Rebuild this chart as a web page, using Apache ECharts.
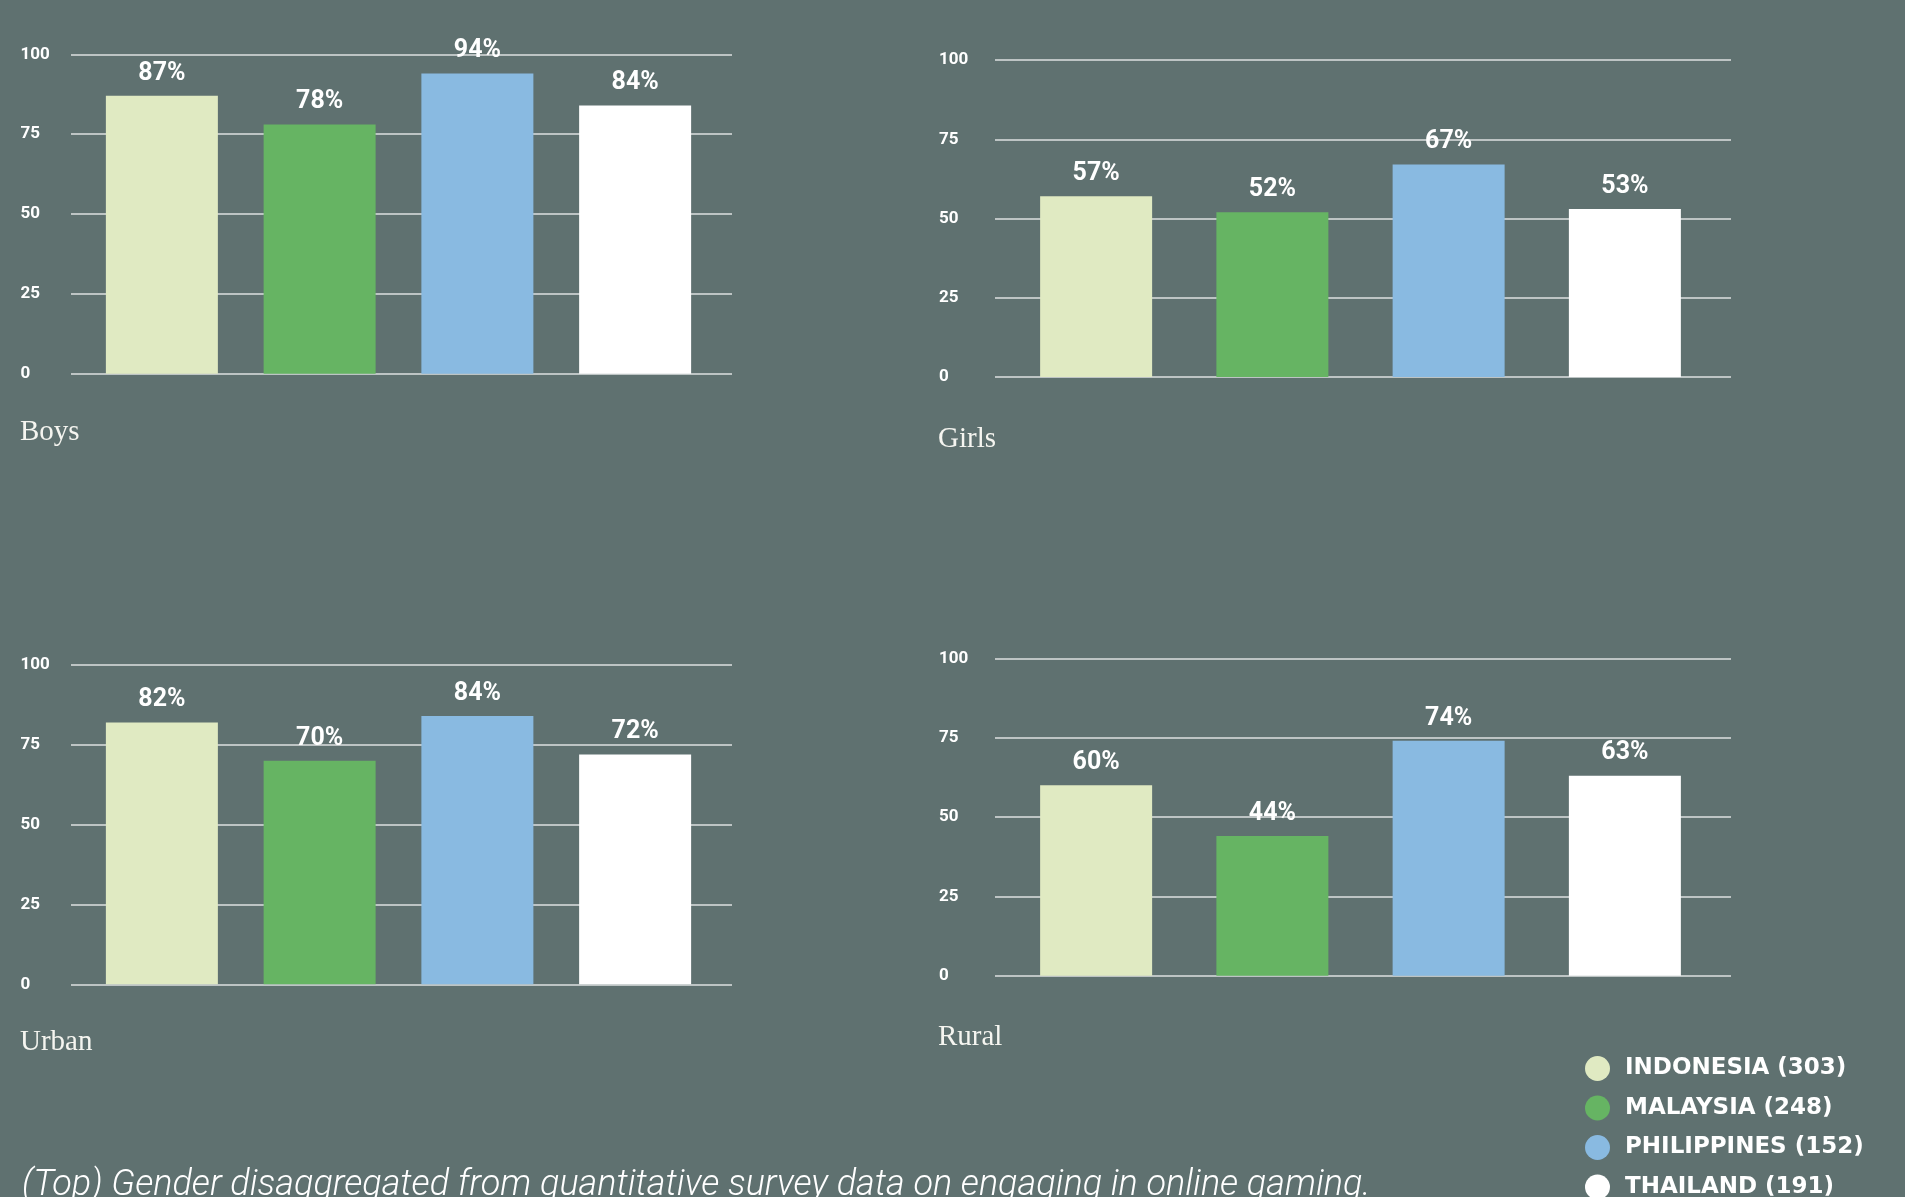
<!DOCTYPE html>
<html>
<head>
<meta charset="utf-8">
<title>Online gaming by gender and location</title>
<script src="https://cdn.jsdelivr.net/npm/echarts@6/dist/echarts.min.js"></script>
<style>
  html, body { margin: 0; padding: 0; background: #5f7170; }
  #chart { width: 1905px; height: 1197px; }
</style>
</head>
<body>
<div id="chart"></div>
<script>
// Countries and respondent counts
const countries = ['Indonesia', 'Malaysia', 'Philippines', 'Thailand'];
const sampleSizes = [303, 248, 152, 191];

// Share (%) engaging in online gaming, per country
const boys  = [87, 78, 94, 84];
const girls = [57, 52, 67, 53];
const urban = [82, 70, 84, 72];
const rural = [60, 44, 74, 63];

const panelTitles = ['Boys', 'Girls', 'Urban', 'Rural'];
const panelValues = [boys, girls, urban, rural];

const axisMin = 0;
const axisMax = 100;
const axisStep = 25;

const caption = '(Top) Gender disaggregated from quantitative survey data on engaging in online gaming.';

// Styling and layout
const countryColors = ['#e0eac2', '#66b463', '#89bae1', '#ffffff'];
const bg = '#5f7170';
const ruleColor = '#dce1e0';

const columns = [
  { ruleLeft: 71,  ruleWidth: 661, barLeft: 83,   barWidth: 631, labelX: 20.5, titleLeft: 20 },
  { ruleLeft: 995, ruleWidth: 736, barLeft: 1008, barWidth: 705, labelX: 939,  titleLeft: 938 }
];
const panelBoxes = [
  { col: 0, top: 54.3,  height: 319.4, titleTop: 418 },
  { col: 1, top: 60,    height: 317,   titleTop: 425 },
  { col: 0, top: 665,   height: 319.3, titleTop: 1028 },
  { col: 1, top: 658.3, height: 317.4, titleTop: 1023 }
];

const legendNames = countries.map((c, i) => c.toUpperCase() + ' (' + sampleSizes[i] + ')');

const option = {
  backgroundColor: bg,
  animation: false,
  grid: [],
  xAxis: [],
  yAxis: [],
  series: [],
  title: [],
  legend: {
    data: legendNames,
    orient: 'vertical',
    left: 1585,
    top: 1056,
    height: 170,
    padding: 0,
    itemWidth: 25,
    itemHeight: 25,
    itemGap: 14.5,
    icon: 'circle',
    selectedMode: false,
    textStyle: {
      color: '#ffffff',
      fontFamily: 'DejaVu Sans',
      fontWeight: 'bold',
      fontSize: 23,
      padding: [0, 0, 0, 10]
    }
  }
};

panelValues.forEach((values, k) => {
  const box = panelBoxes[k];
  const col = columns[box.col];

  // grid carrying the horizontal rules and tick labels
  const ruleIdx = option.grid.length;
  option.grid.push({ left: col.ruleLeft, width: col.ruleWidth, top: box.top, height: box.height });
  option.xAxis.push({ gridIndex: ruleIdx, type: 'category', data: countries, show: false });
  option.yAxis.push({
    gridIndex: ruleIdx,
    type: 'value',
    min: axisMin,
    max: axisMax,
    interval: axisStep,
    axisLine: { show: false },
    axisTick: { show: false },
    axisLabel: {
      align: 'left',
      margin: col.ruleLeft - col.labelX,
      color: '#ffffff',
      fontFamily: 'Roboto',
      fontWeight: 'bold',
      fontSize: 17
    },
    splitLine: { show: true, lineStyle: { color: ruleColor, width: 1.6 } }
  });

  // grid carrying the bars, same vertical scale
  const barIdx = option.grid.length;
  option.grid.push({ left: col.barLeft, width: col.barWidth, top: box.top, height: box.height });
  option.xAxis.push({ gridIndex: barIdx, type: 'category', data: countries, show: false });
  option.yAxis.push({ gridIndex: barIdx, type: 'value', min: axisMin, max: axisMax, show: false });

  countries.forEach((c, i) => {
    option.series.push({
      type: 'bar',
      name: legendNames[i],
      xAxisIndex: barIdx,
      yAxisIndex: barIdx,
      barWidth: 112,
      barGap: '-100%',
      data: values.map((v, j) => (j === i ? v : '-')),
      itemStyle: { color: countryColors[i] },
      label: {
        show: true,
        position: 'top',
        distance: 10,
        formatter: '{c}%',
        color: '#ffffff',
        fontFamily: 'Roboto',
        fontWeight: 'bold',
        fontSize: 25
      }
    });
  });

  option.title.push({
    text: panelTitles[k],
    left: col.titleLeft,
    top: box.titleTop,
    padding: 0,
    textStyle: {
      color: '#f5f5f0',
      fontFamily: 'Liberation Serif',
      fontWeight: 'normal',
      fontSize: 29
    }
  });
});

option.title.push({
  text: caption,
  left: 22,
  top: 1168,
  padding: 0,
  textStyle: {
    color: '#ffffff',
    fontFamily: 'Roboto',
    fontStyle: 'italic',
    fontWeight: 300,
    fontSize: 36
  }
});

const chart = echarts.init(document.getElementById('chart'), null, { renderer: 'canvas' });
chart.setOption(option);
</script>
</body>
</html>
